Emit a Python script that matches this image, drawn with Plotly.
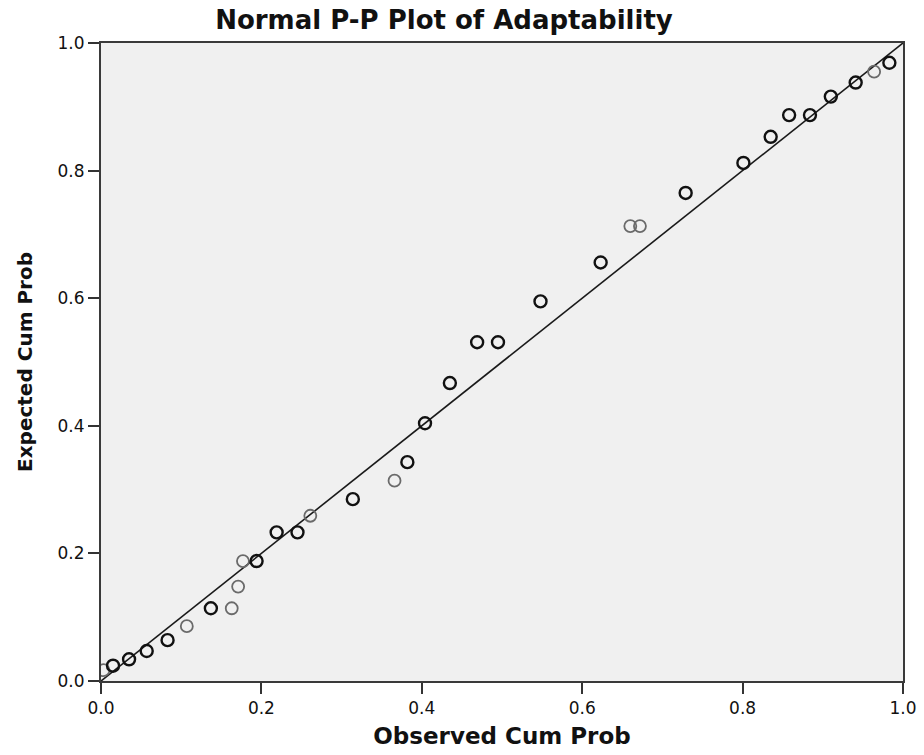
import plotly.graph_objects as go

# Observed vs expected cumulative probabilities
obs_dark = [0.015, 0.035, 0.057, 0.083, 0.137, 0.194, 0.219, 0.245, 0.314, 0.382,
            0.404, 0.435, 0.469, 0.495, 0.548, 0.623, 0.729, 0.801, 0.835, 0.858,
            0.884, 0.910, 0.941, 0.983]
exp_dark = [0.024, 0.034, 0.047, 0.064, 0.114, 0.188, 0.233, 0.233, 0.285, 0.343,
            0.404, 0.467, 0.531, 0.531, 0.595, 0.656, 0.765, 0.812, 0.853, 0.887,
            0.887, 0.916, 0.938, 0.969]
obs_light = [0.003, 0.107, 0.163, 0.171, 0.177, 0.261, 0.366, 0.660, 0.672, 0.964]
exp_light = [0.017, 0.086, 0.114, 0.148, 0.188, 0.259, 0.314, 0.713, 0.713, 0.955]
ref_line = [0.0, 1.0]
ticks = [0.0, 0.2, 0.4, 0.6, 0.8, 1.0]
tick_text = ["0.0", "0.2", "0.4", "0.6", "0.8", "1.0"]

FONT = "DejaVu Sans, Liberation Sans, Arial"

fig = go.Figure()
fig.add_trace(go.Scatter(x=ref_line, y=ref_line, mode="lines",
                         line=dict(color="#1a1a1a", width=1.6), hoverinfo="skip"))
fig.add_trace(go.Scatter(x=obs_light, y=exp_light, mode="markers",
                         marker=dict(symbol="circle-open", size=12, color="#6a6a6a",
                                     line=dict(width=1.8, color="#6a6a6a"))))
fig.add_trace(go.Scatter(x=obs_dark, y=exp_dark, mode="markers",
                         marker=dict(symbol="circle-open", size=12, color="#111111",
                                     line=dict(width=2.4, color="#111111"))))

axis_common = dict(range=[0, 1], tickvals=ticks, ticktext=tick_text, automargin=False,
                   showgrid=False, zeroline=False, showline=True, linecolor="#3a3a3a",
                   linewidth=2, mirror=True, ticks="outside", ticklen=11,
                   tickcolor="#333333", tickwidth=1.5,
                   tickfont=dict(family=FONT, size=17, color="#111111"))

fig.update_layout(
    width=924, height=755,
    margin=dict(l=101, r=21, t=43, b=74),
    paper_bgcolor="white", plot_bgcolor="#f0f0f0",
    showlegend=False,
    title=dict(text="<b>Normal P-P Plot of Adaptability</b>", x=444/924, xanchor="center",
               y=1 - 20/755, yanchor="middle",
               font=dict(family=FONT, size=26, color="#111111")),
    xaxis=dict(**axis_common,
               title=dict(text="<b>Observed Cum Prob</b>", standoff=10,
                          font=dict(family=FONT, size=23, color="#111111"))),
    yaxis=dict(**axis_common,
               title=dict(text="<b>Expected Cum Prob</b>", standoff=20,
                          font=dict(family=FONT, size=20, color="#111111"))),
)

fig.write_html("out.html")
